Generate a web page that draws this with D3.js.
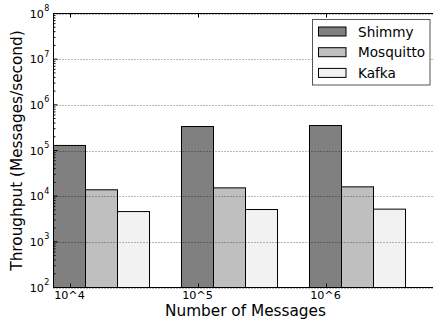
<!DOCTYPE html>
<html><head><meta charset="utf-8">
<script src="https://cdn.jsdelivr.net/npm/d3@7"></script>
<style>body{margin:0;background:#fff}svg{display:block}text{font-family:"DejaVu Sans",sans-serif}</style>
</head><body>
<script>
const categories = ["10^4", "10^5", "10^6"];
const seriesNames = ["Shimmy", "Mosquitto", "Kafka"];
const shimmy = [129000, 335000, 352000];
const mosquitto = [13800, 15200, 16000];
const kafka = [4600, 5100, 5200];
const yTicks = [2, 3, 4, 5, 6, 7, 8];
const colors = ["#808080", "#bfbfbf", "#f2f2f2"];
const series = [shimmy, mosquitto, kafka];

const W = 433, H = 325;
const svg = d3.select("body").append("svg").attr("width", W).attr("height", H);
const L = 53.5, R = 437.5, T = 13.5, B = 287.5;
const barW = 0.25;
const x = d3.scaleLinear().domain([-0.125, 2.875]).range([L, R]);
const y = d3.scaleLog().domain([1e2, 1e8]).range([B, T]);

// bars
series.forEach((vals, j) => {
  svg.append("g").selectAll("rect").data(vals).join("rect")
    .attr("x", (d, i) => x(i - barW / 2 + j * barW))
    .attr("width", x(barW) - x(0))
    .attr("y", d => y(d))
    .attr("height", d => y(1e2) - y(d))
    .attr("fill", colors[j]).attr("stroke", "#000").attr("stroke-width", 1);
});

// spines
svg.append("rect").attr("x", L).attr("y", T).attr("width", R - L).attr("height", B - T)
  .attr("fill", "none").attr("stroke", "#000").attr("stroke-width", 1);

// gridlines (on top of bars)
svg.append("g").selectAll("line").data(yTicks).join("line")
  .attr("x1", L).attr("x2", R)
  .attr("y1", d => Math.round(y(Math.pow(10, d))) + 0.5)
  .attr("y2", d => Math.round(y(Math.pow(10, d))) + 0.5)
  .attr("stroke", "#000").attr("stroke-width", 1).attr("stroke-dasharray", "1,2").attr("opacity", 0.55);

// y ticks major/minor
const yMajor = yTicks.map(d => Math.pow(10, d));
const yMinor = [];
for (let e = 2; e < 8; e++) for (let k = 2; k <= 9; k++) yMinor.push(k * Math.pow(10, e));
const tk = svg.append("g").attr("stroke", "#000").attr("stroke-width", 1);
yMajor.forEach(v => {
  const yy = y(v);
  tk.append("line").attr("x1", L).attr("x2", L + 4).attr("y1", yy).attr("y2", yy);
  tk.append("line").attr("x1", R).attr("x2", R - 4).attr("y1", yy).attr("y2", yy);
});
yMinor.forEach(v => {
  const yy = y(v);
  tk.append("line").attr("x1", L).attr("x2", L + 2).attr("y1", yy).attr("y2", yy);
  tk.append("line").attr("x1", R).attr("x2", R - 2).attr("y1", yy).attr("y2", yy);
});
categories.forEach((c, i) => {
  const xx = Math.round(x(i)) + 0.5;
  tk.append("line").attr("x1", xx).attr("x2", xx).attr("y1", B).attr("y2", B - 4);
  tk.append("line").attr("x1", xx).attr("x2", xx).attr("y1", T).attr("y2", T + 4);
});

// y tick labels
const yl = svg.append("g");
yTicks.forEach(e => {
  yl.append("text").attr("x", 44).attr("y", y(Math.pow(10, e)) + 4)
    .attr("text-anchor", "end").attr("font-size", 11.2).attr("fill", "#000").text("10");
  yl.append("text").attr("x", 44.3).attr("y", y(Math.pow(10, e)) - 2.5)
    .attr("font-size", 8).attr("fill", "#000").text(e);
});

// x tick labels
svg.append("g").selectAll("text").data(categories).join("text")
  .attr("x", (d, i) => x(i)).attr("y", 298.5).attr("text-anchor", "middle")
  .attr("font-size", 11.2).attr("fill", "#000").text(d => d);

// axis labels
svg.append("text").attr("x", (L + R) / 2).attr("y", 315.5).attr("text-anchor", "middle")
  .attr("font-size", 15.3).attr("fill", "#000").text("Number of Messages");
svg.append("text").attr("transform", `translate(21.5,${(T + B) / 2}) rotate(-90)`)
  .attr("text-anchor", "middle").attr("font-size", 15.3).attr("fill", "#000")
  .text("Throughput (Messages/second)");

// legend
const lg = svg.append("g");
lg.append("rect").attr("x", 312.5).attr("y", 19.5).attr("width", 117.5).attr("height", 65.5)
  .attr("fill", "#fff").attr("stroke", "#555").attr("stroke-width", 1);
seriesNames.forEach((n, j) => {
  const cy = 31.5 + j * 20.7;
  lg.append("rect").attr("x", 318.5).attr("y", cy - 4.5).attr("width", 27.5).attr("height", 9)
    .attr("fill", colors[j]).attr("stroke", "#000").attr("stroke-width", 1);
  lg.append("text").attr("x", 358).attr("y", cy + 5).attr("font-size", 13.6).attr("fill", "#000").text(n);
});
</script>
</body></html>
